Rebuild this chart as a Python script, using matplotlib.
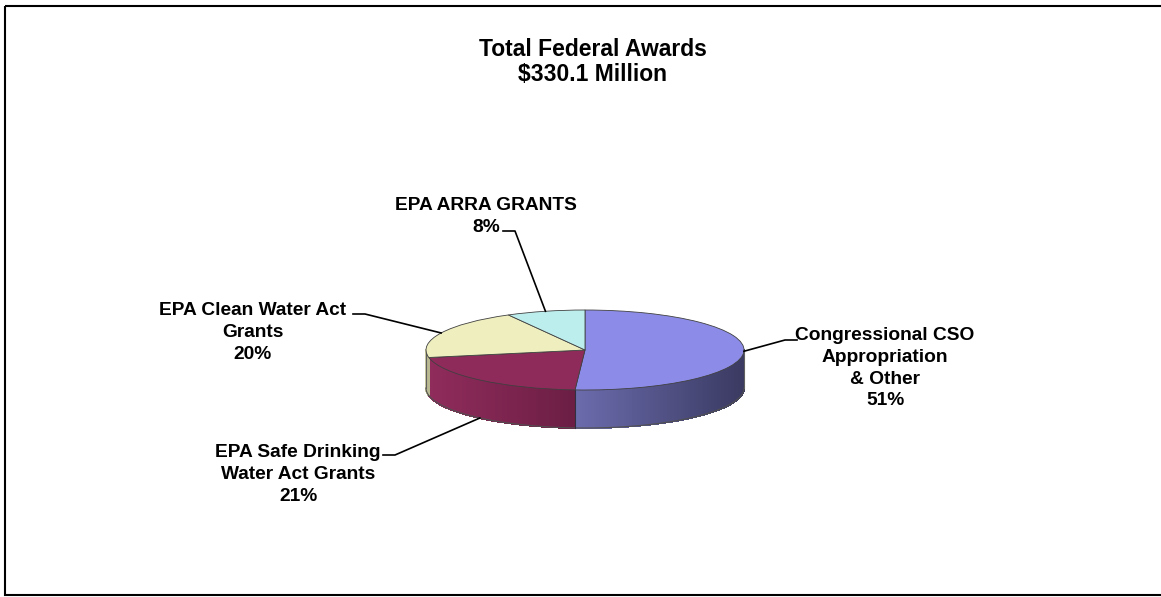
import numpy as np
import matplotlib
matplotlib.use("Agg")
import matplotlib.pyplot as plt
from matplotlib.transforms import Affine2D
from matplotlib.patches import Polygon, Rectangle
from matplotlib.colors import to_rgb

plt.rcParams['font.family'] = ['Liberation Sans', 'DejaVu Sans']

# data
labels = ['Congressional CSO\nAppropriation\n& Other',
          'EPA Safe Drinking\nWater Act Grants',
          'EPA Clean Water Act\nGrants',
          'EPA ARRA GRANTS']
shares = [51, 21, 20, 8]
title = 'Total Federal Awards\n$330.1 Million'

# styles
top_colors = ['#8c8ce8', '#8e2b5a', '#eeeebe', '#bdeeee']
side_light = ['#6c6cae', '#902c5c', '#cfcfa6', '#a8d4d4']
side_dark = ['#3a3a62', '#6c1e44', '#b8b890', '#90b8b8']
label_pos = [(885, 327), (298, 444), (253, 302), (486, 197)]
elbows = [(797, 785), (383, 395), (353, 365), (503, 515)]
elbow_y = [340, 455, 314, 231]

cx, cy = 585, 350     # pixel centre of the top face
a, b = 159, 40        # ellipse semi-axes in pixels
depth = 38

fig = plt.figure(figsize=(11.61, 5.97), dpi=100)
ax = fig.add_axes([0, 0, 1, 1])

# top face through ax.pie, squashed into an ellipse
wedges, _ = ax.pie(shares, colors=top_colors, startangle=90, counterclock=False,
                   radius=a, center=(0, 0),
                   wedgeprops=dict(edgecolor='#404040', linewidth=0.6))
ax.set_aspect('auto')
ax.set_xlim(0, 1161)
ax.set_ylim(597, 0)
ax.axis('off')
squash = Affine2D().scale(1, -b / a).translate(cx, cy) + ax.transData
for w in wedges:
    w.set_transform(squash)
    w.set_zorder(3)

# slice angles (degrees, counter-clockwise from +x)
fr = np.array(shares) / sum(shares)
ends = 90 - 360 * np.cumsum(fr)
starts = np.concatenate([[90], ends[:-1]])


def pt(t, drop=0.0):
    r = np.radians(t)
    return cx + a * np.cos(r), cy - b * np.sin(r) + drop


# side wall for the front half (angles between -180 and 0)
for i in range(len(shares)):
    hi, lo = starts[i], ends[i]
    for shift in (0, -360, 360):
        s_hi, s_lo = min(hi + shift, 0), max(lo + shift, -180)
        if s_hi <= s_lo:
            continue
        n = max(int((s_hi - s_lo) / 1.0), 1)
        tt = np.linspace(s_lo, s_hi, n + 1)
        c0, c1 = np.array(to_rgb(side_light[i])), np.array(to_rgb(side_dark[i]))
        x_lo, x_hi = pt(s_lo)[0], pt(s_hi)[0]
        for k in range(n):
            t0, t1 = tt[k], tt[k + 1]
            xm = (pt(t0)[0] + pt(t1)[0]) / 2
            f = (xm - x_lo) / max(x_hi - x_lo, 1e-6)
            col = c0 + (c1 - c0) * f
            p = [pt(t0), pt(t1), pt(t1, depth), pt(t0, depth)]
            ax.add_patch(Polygon(p, closed=True, facecolor=col, edgecolor=col,
                                 linewidth=0.8, antialiased=False, zorder=2))
        # outline bottom arc
        arc = np.linspace(s_lo, s_hi, 80)
        ax.plot([pt(t, depth)[0] for t in arc], [pt(t, depth)[1] for t in arc],
                color='#505050', lw=0.8, zorder=2.5)

x0, y0 = pt(ends[0])
ax.plot([x0, x0], [y0, y0 + depth], color='#303040', lw=0.8, zorder=2.5)
for t in (-180, 0):
    x0, y0 = pt(t)
    ax.plot([x0, x0], [y0, y0 + depth], color='#606060', lw=0.8, zorder=2.5)

# labels and leader lines
for i in range(len(shares)):
    mid = (starts[i] + ends[i]) / 2
    mid = (mid + 180) % 360 - 180
    drop = depth if np.sin(np.radians(mid)) < -0.3 else 0
    ex, ey = pt(mid, drop)
    e0, e1 = elbows[i]
    ax.plot([e0, e1, ex], [elbow_y[i], elbow_y[i], ey], color='black',
            lw=1.2, zorder=4)
    lx, ly = label_pos[i]
    ax.text(lx, ly, f'{labels[i]}\n{shares[i]}%', ha='center', va='top',
            fontsize=13.8, fontweight='bold', linespacing=1.37)

ax.text(593, 38, title, ha='center', va='top', fontsize=16.5,
        fontweight='bold', linespacing=1.13)

# chart frame
ax.add_patch(Rectangle((4.5, 6), 1170, 589, fill=False, edgecolor='black',
                       linewidth=1.5, zorder=5))

fig.savefig('out.png', dpi=100)
